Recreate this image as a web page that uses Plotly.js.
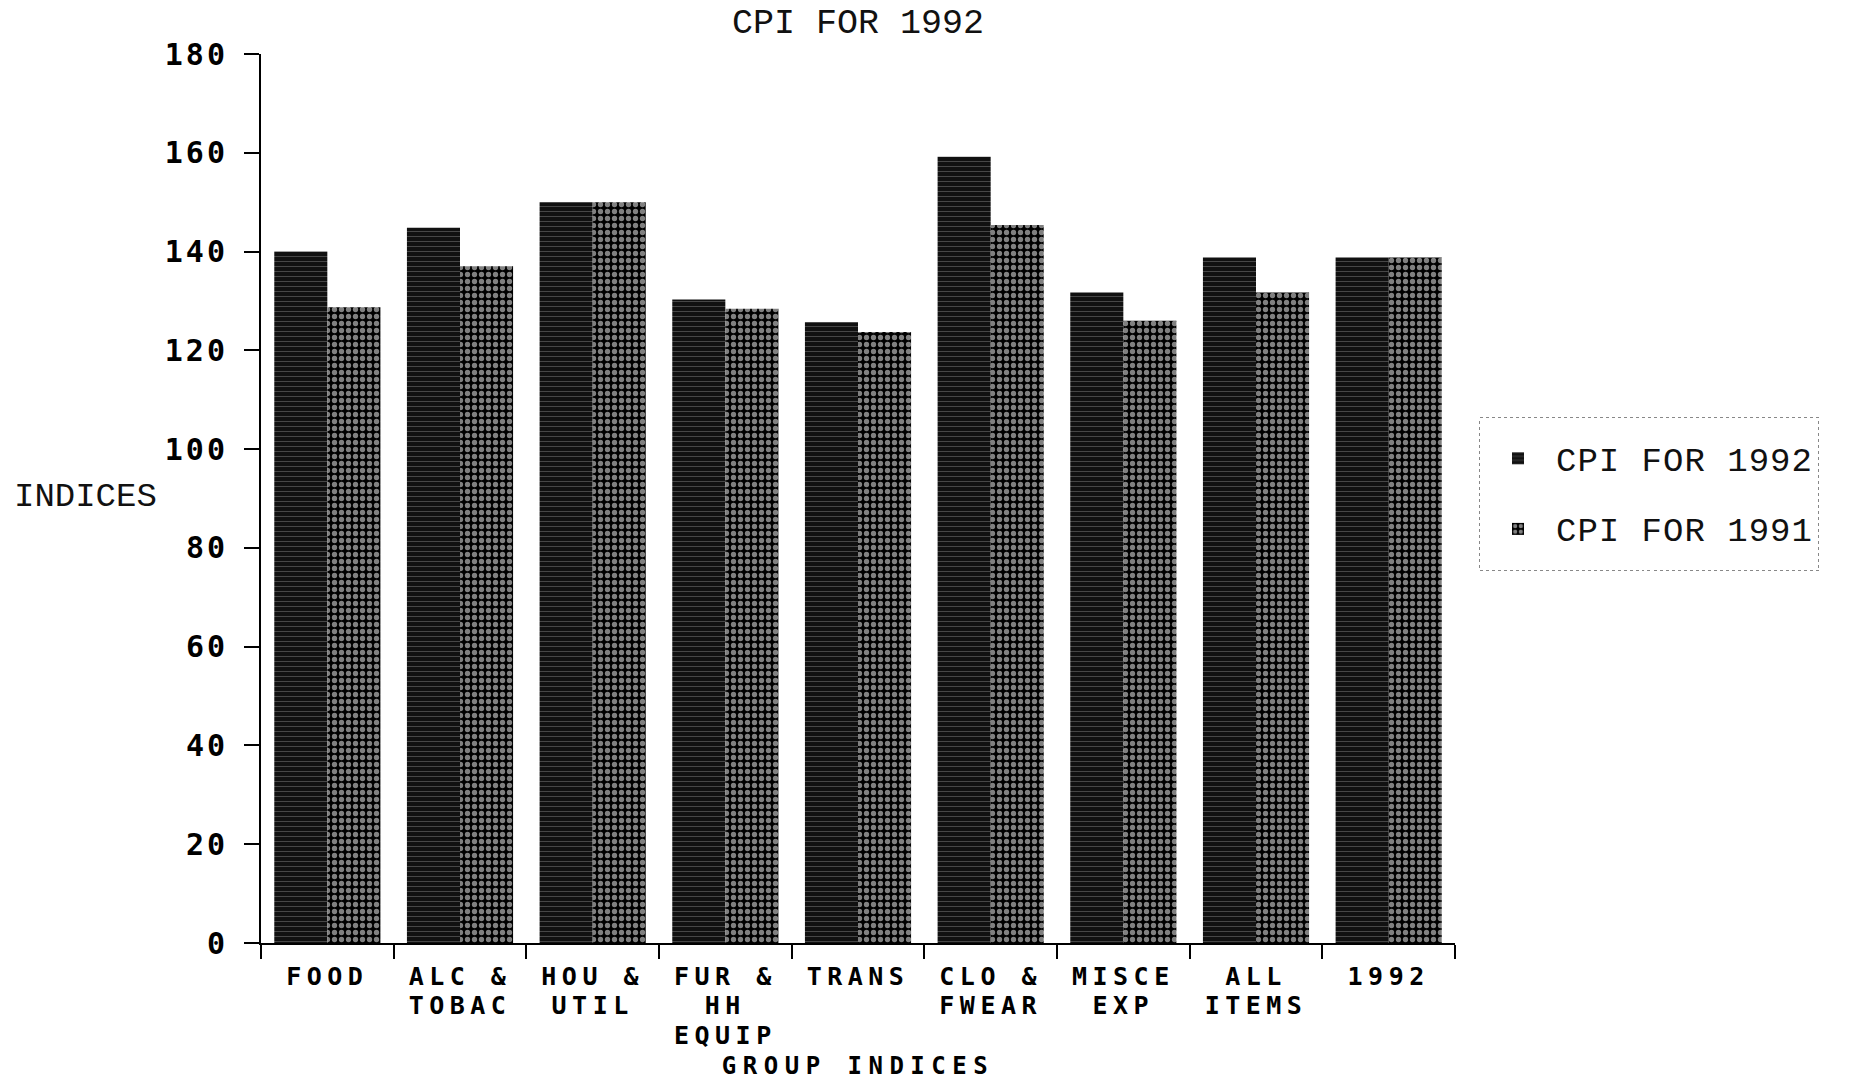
<!DOCTYPE html>
<html>
<head>
<meta charset="utf-8">
<script src="https://cdn.plot.ly/plotly-3.0.1.min.js"></script>
<style>
html,body{margin:0;padding:0;background:#fff;}
#chart{width:1869px;height:1085px;}
.legend .bg{stroke-dasharray:3 3;}
.legendtext{font-size:34px !important; letter-spacing:1px;}
.legend .legendtext{transform:translateY(-8px);}
.xtick text{letter-spacing:5.5px;}
.ytick text{letter-spacing:3px;}
.g-xtitle text{letter-spacing:6.5px;}
</style>
</head>
<body>
<div id="chart"></div>
<script>
// ---- data ----
var categories = ['FOOD', 'ALC &<br>TOBAC', 'HOU &<br>UTIL', 'FUR &<br>HH<br>EQUIP', 'TRANS',
                  'CLO &<br>FWEAR', 'MISCE<br>EXP', 'ALL<br>ITEMS', '1992'];
var cpi1992 = [140, 144.8, 150, 130.3, 125.7, 159.2, 131.7, 138.8, 138.8];
var cpi1991 = [128.7, 137, 150, 128.4, 123.7, 145.4, 126, 131.7, 138.8];
var yTickVals = [0, 20, 40, 60, 80, 100, 120, 140, 160, 180];
var seriesNames = ['CPI FOR 1992', 'CPI FOR 1991'];
var chartTitle = 'CPI FOR 1992';
var xTitle = 'GROUP INDICES';
var yTitle = 'INDICES';

var W = 1869, H = 1085;
var serifMono = 'Liberation Mono, Courier New, monospace';
var boldMono = 'DejaVu Sans Mono, Liberation Mono, monospace';

var trace1992 = {
  type: 'bar', x: categories, y: cpi1992, name: seriesNames[0], legendgroup: 'a',
  marker: {
    color: '#111',
    line: {width: 0},
    pattern: {shape: '-', fgcolor: '#8a8a8a', bgcolor: '#111', size: 5, solidity: 0.18, fillmode: 'overlay'}
  },
  hoverinfo: 'skip'
};
var trace1991 = {
  type: 'bar', x: categories, y: cpi1991, name: seriesNames[1], legendgroup: 'b',
  marker: {
    color: '#000',
    line: {width: 0},
    pattern: {shape: '.', fgcolor: '#ffffff', bgcolor: '#000', size: 7, solidity: 0.45, fillmode: 'overlay'}
  },
  hoverinfo: 'skip'
};

var layout = {
  width: W, height: H,
  paper_bgcolor: '#fff', plot_bgcolor: '#fff',
  margin: {l: 261, r: 414, t: 54, b: 142, pad: 0},
  barmode: 'group', bargap: 0.2, bargroupgap: 0,
  showlegend: true,
  title: {
    text: chartTitle,
    font: {family: serifMono, size: 35, color: '#111'},
    x: 0.5, xref: 'paper', xanchor: 'center',
    y: 1 - 21 / H, yref: 'container', yanchor: 'middle'
  },
  xaxis: {
    type: 'category',
    showline: true, linecolor: '#000', linewidth: 2,
    ticks: 'outside', ticklen: 14, tickwidth: 2, tickcolor: '#000',
    tickson: 'boundaries',
    showgrid: false, zeroline: false,
    tickfont: {family: boldMono, size: 25, color: '#000', weight: 'bold'},
    ticklabelstandoff: 10,
    title: {text: xTitle, font: {family: boldMono, size: 24, color: '#000', weight: 'bold'}}
  },
  yaxis: {
    range: [0, 180], tickmode: 'array', tickvals: yTickVals,
    showline: true, linecolor: '#000', linewidth: 2,
    ticks: 'outside', ticklen: 15, tickwidth: 2, tickcolor: '#000',
    showgrid: false, zeroline: false,
    tickfont: {family: boldMono, size: 30, color: '#000', weight: 'bold'},
    ticklabelstandoff: 10
  },
  legend: {
    x: 1479 / W, y: 1 - 417 / H, xref: 'container', yref: 'container',
    xanchor: 'left', yanchor: 'top',
    bordercolor: '#888', borderwidth: 1, bgcolor: '#fff',
    font: {family: serifMono, size: 52, color: '#111'},
    traceorder: 'grouped', tracegroupgap: 0,
    itemwidth: 66,
    itemclick: false, itemdoubleclick: false
  },
  annotations: [{
    text: yTitle, xref: 'paper', yref: 'paper',
    x: (12 - 261) / 1194, y: (943 - 497) / 889,
    xanchor: 'left', yanchor: 'middle', showarrow: false,
    font: {family: serifMono, size: 34, color: '#111'}
  }]
};

function tidy(gd) {
  // tighten line pitch of multi-line category labels (the reference sets its lines close together)
  var pitchEm = 1.17;
  gd.querySelectorAll('.xtick text tspan.line').forEach(function (t) {
    var dy = parseFloat(t.getAttribute('dy')) || 0;
    t.setAttribute('dy', (dy / 1.3 * pitchEm) + 'em');
  });
  // set the axis title just below the deepest category label
  var maxBottom = 0;
  gd.querySelectorAll('.xtick text').forEach(function (t) {
    var r = t.getBoundingClientRect();
    if (r.bottom > maxBottom) maxBottom = r.bottom;
  });
  var tt = gd.querySelector('.g-xtitle text');
  if (tt && maxBottom > 0) {
    var tb = tt.getBoundingClientRect();
    var prev = tt.getAttribute('transform') || '';
    tt.setAttribute('transform', prev + ' translate(0,' + (maxBottom + 2 - tb.top) + ')');
  }
}

Plotly.newPlot('chart', [trace1992, trace1991], layout, {staticPlot: true, displayModeBar: false})
.then(function (gd) {
  setTimeout(function () { tidy(gd); }, 300);
});
</script>
</body>
</html>
